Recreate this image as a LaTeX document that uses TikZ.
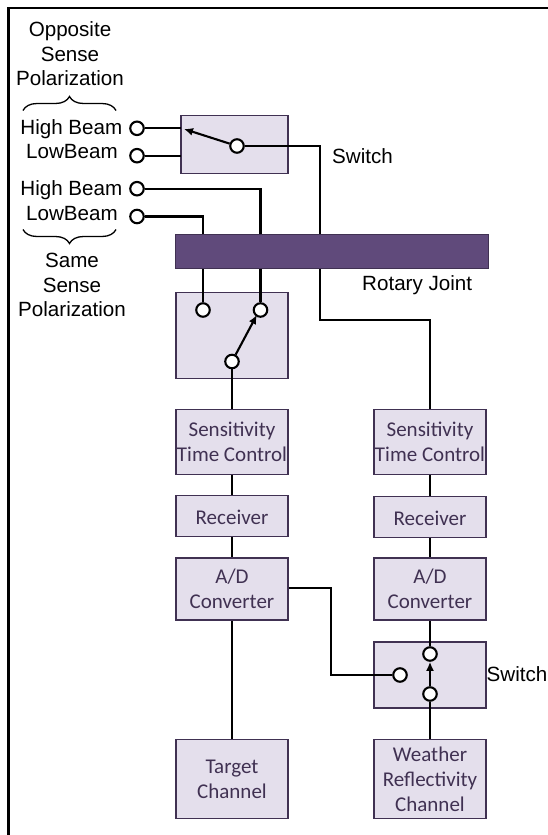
\documentclass[tikz,border=0pt]{standalone}
\usepackage{fontspec}
\setmainfont{Liberation Sans}
\newfontfamily\boxfont{Carlito}
\usetikzlibrary{arrows.meta,decorations.pathreplacing}
\definecolor{boxfill}{HTML}{E4DFEC}
\definecolor{boxline}{HTML}{403152}
\definecolor{joint}{HTML}{604A7B}
\tikzset{
  x=1pt,y=-1pt,
  wire/.style={line width=2.1pt,black},
  swbox/.style={draw=boxline,fill=boxfill,line width=1.7pt,minimum width=111.5pt,inner sep=0pt},
  blockbox/.style={swbox,align=center,text=boxline,font=\boxfont\fontsize{21}{24.8}\selectfont,
    execute at begin node={\rule{0pt}{18pt}}},
  term/.style={circle,draw=black,fill=white,line width=2.1pt,minimum size=13.5pt,inner sep=0pt},
  lab/.style={font=\fontsize{20.6}{24.5}\selectfont,align=center,inner sep=0pt,text=black},
  arm/.style={line width=2.1pt,-{Latex[length=9pt,width=8pt]}},
  brace/.style={draw=black,line width=1.3pt,decorate,decoration={brace,amplitude=14pt}},
}
\begin{document}
\begin{tikzpicture}
\useasboundingbox (0,0) rectangle (547,835);
\draw[line width=2.1pt] (8.5,840) -- (8.5,8) -- (550,8);
\node[lab] (opp) at (70,54) {Opposite\\Sense\\Polarization};
\node[lab] (same) at (72,285) {Same\\Sense\\Polarization};
\node[lab,anchor=east] (hb1) at (122.5,129) {High Beam};
\node[lab,anchor=east] (lb1) at (118,152) {LowBeam};
\node[lab,anchor=east] (hb2) at (122.5,190) {High Beam};
\node[lab,anchor=east] (lb2) at (118,214) {LowBeam};
\node[lab,anchor=west] (sw1l) at (332,156) {Switch};
\node[lab,anchor=west] (rjl) at (362,285) {Rotary Joint};
\node[lab,anchor=west] (sw2l) at (486.5,674) {Switch};
\coordinate (b1l) at (23,110.5); \coordinate (b1r) at (116,110.5);
\coordinate (b2l) at (23,229.5); \coordinate (b2r) at (116,229.5);
\draw[brace] (b1l) -- (b1r);
\draw[brace] (b2r) -- (b2l);

\node[swbox,minimum width=106.5pt,minimum height=58pt] (sw1) at (234.5,144.5) {};
\node[swbox,minimum height=86pt] (sw3) at (232,335.5) {};
\node[blockbox,minimum height=65pt] (st1) at (232,442) {Sensitivity\\Time Control};
\node[blockbox,minimum height=41pt] (rx1) at (232,516) {Receiver};
\node[blockbox,minimum height=62pt] (ad1) at (232,589) {A/D\\Converter};
\node[blockbox,minimum height=79pt] (tc) at (232,779) {Target\\Channel};
\node[blockbox,minimum height=65pt] (st2) at (430,442) {Sensitivity\\Time Control};
\node[blockbox,minimum height=41pt] (rx2) at (430,517) {Receiver};
\node[blockbox,minimum height=62pt] (ad2) at (430,589) {A/D\\Converter};
\node[swbox,minimum height=66pt] (sw2) at (430,675) {};
\node[blockbox,minimum height=79pt] (wc) at (430,779) {Weather\\Reflectivity\\Channel};

\node[term] (t1) at (137,128.3) {};
\node[term] (t2) at (137,155.7) {};
\node[term] (t3) at (137,188.7) {};
\node[term] (t4) at (137,216.5) {};
\node[term] (c1) at (237,146) {};
\node[term] (a1) at (203,310) {};
\node[term] (a2) at (260.5,310) {};
\node[term] (a3) at (232,361.5) {};
\node[term] (d1) at (430,654) {};
\node[term] (d2) at (400,675) {};
\node[term] (d3) at (430,694) {};
\coordinate (t1e) at (181,128.3);
\coordinate (t2e) at (181,155.7);
\coordinate (c1e) at (184,129);
\coordinate (a2e) at (256.8,315);

\draw[wire] (t1) -- (t1e);
\draw[wire] (t2) -- (t2e);
\draw[arm] (c1) -- (c1e);
\draw[wire] (c1) -- (320,146) -- (320,320) -- (430,320) -- (st2.north);
\draw[wire] (t3) -| (a2);
\draw[wire] (t4) -| (a1);
\draw[arm] (a3) -- (a2e);
\draw[wire] (a3) -- (st1.north);
\draw[wire] (st1) -- (rx1);
\draw[wire] (rx1) -- (ad1);
\draw[wire] (ad1) -- (tc);
\draw[wire] (st2) -- (rx2);
\draw[wire] (rx2) -- (ad2);
\draw[wire] (ad2) -- (d1);
\draw[wire] (ad1.east |- 0,588) -- (331,588) |- (d2);
\draw[arm] (d3) -- (d1);
\draw[wire] (d3) -- (wc);
\node[draw=boxline,fill=joint,line width=1.4pt,minimum width=313pt,minimum height=34.5pt,inner sep=0pt] (rj) at (332,251.5) {};
\end{tikzpicture}
\end{document}
